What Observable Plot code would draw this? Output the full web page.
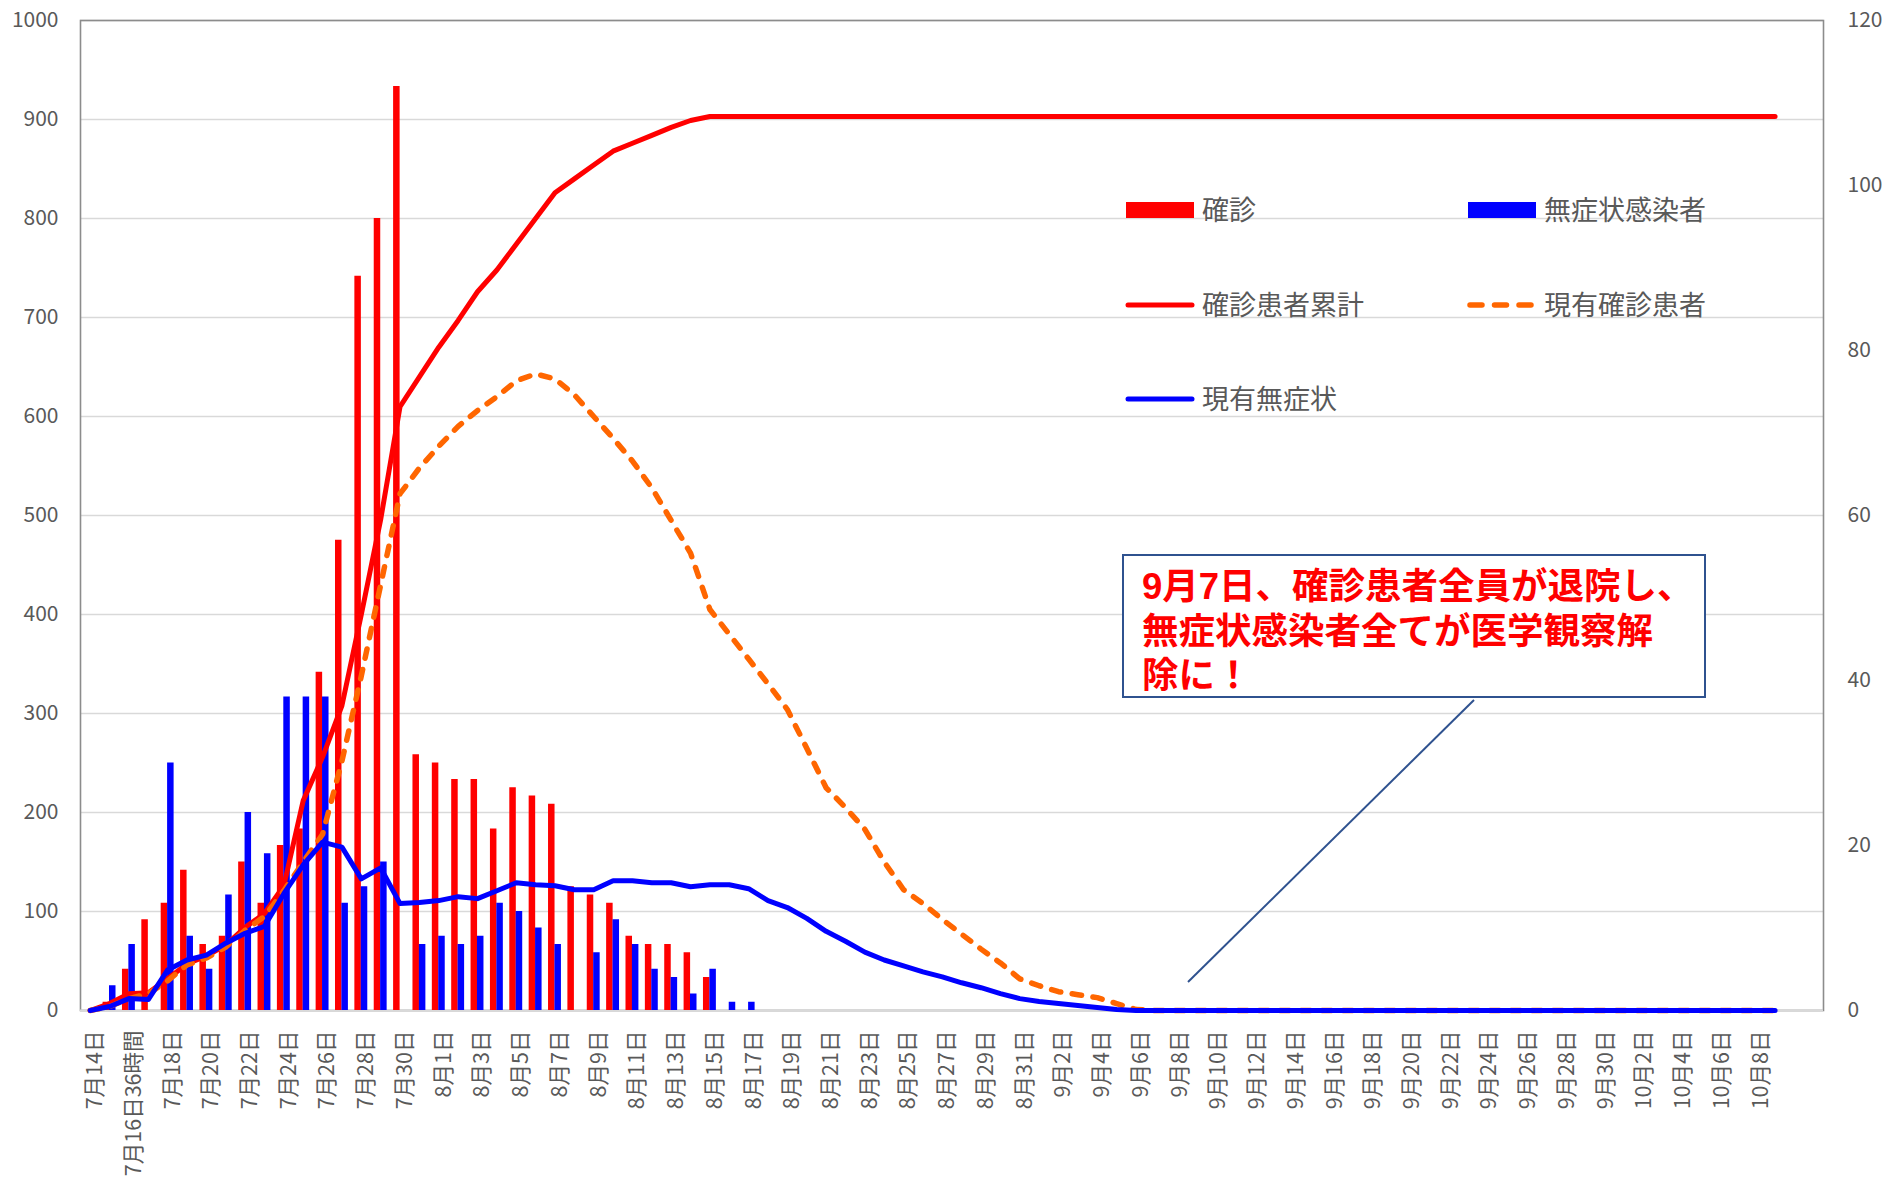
<!DOCTYPE html>
<html><head><meta charset="utf-8">
<script src="https://cdn.jsdelivr.net/npm/d3@7"></script>
<script src="https://cdn.jsdelivr.net/npm/@observablehq/plot@0.6"></script>
<style>
html,body{margin:0;padding:0;background:#fff;}
#wrap{position:relative;width:1885px;height:1185px;font-family:"Noto Sans CJK JP","Noto Sans",sans-serif;}
.lg{position:absolute;font-size:27px;color:#595959;line-height:1;white-space:nowrap;}
.sw{position:absolute;}
#note{position:absolute;left:1122px;top:554px;width:584px;height:144px;border:2px solid #2F528F;background:#fff;
  color:#ff0000;font-family:"Liberation Sans","Noto Sans CJK JP",sans-serif;font-weight:bold;font-size:36.5px;line-height:44.5px;
  padding:9px 0 0 18px;box-sizing:border-box;white-space:nowrap;}
</style></head><body><div id="wrap"></div>
<script>
// x categories (tick labels)
const labels = ["7月14日","7月15日","7月16日36時間","7月17日","7月18日","7月19日","7月20日","7月21日","7月22日","7月23日","7月24日","7月25日","7月26日","7月27日","7月28日","7月29日","7月30日","7月31日",
"8月1日","8月2日","8月3日","8月4日","8月5日","8月6日","8月7日","8月8日","8月9日","8月10日","8月11日","8月12日","8月13日","8月14日","8月15日","8月16日","8月17日","8月18日","8月19日","8月20日","8月21日","8月22日","8月23日","8月24日","8月25日","8月26日","8月27日","8月28日","8月29日","8月30日","8月31日",
"9月1日","9月2日","9月3日","9月4日","9月5日","9月6日","9月7日","9月8日","9月9日","9月10日","9月11日","9月12日","9月13日","9月14日","9月15日","9月16日","9月17日","9月18日","9月19日","9月20日","9月21日","9月22日","9月23日","9月24日","9月25日","9月26日","9月27日","9月28日","9月29日","9月30日",
"10月1日","10月2日","10月3日","10月4日","10月5日","10月6日","10月7日","10月8日","10月9日"];
const slotCount = 90; // category slots on the axis (last two empty)

// right axis (0-120): daily bars
const confirmedDaily = [0,1,5,11,13,17,8,9,18,13,20,22,41,57,89,96,112,31,30,28,28,22,27,26,25,15,14,13,9,8,8,7,4,0,0];
const asymptomaticDaily = [0,3,8,0,30,9,5,14,24,19,38,38,38,13,15,18,0,8,9,8,9,13,12,10,8,0,7,11,8,5,4,2,5,1,1];

// left axis (0-1000): lines (88 values each)
const cumulativeConfirmed = [
  0,7,17,18,32,47,55,66,84,98,
  126,212,256,308,400,496,610,640,670,697,
  726,748,774,800,826,840,854,868,876,884,
  892,899,903,903,903,903,903,903,903,903,
  903,903,903,903,903,903,903,903,903,903,
  903,903,903,903,903,903,903,903,903,903,
  903,903,903,903,903,903,903,903,903,903,
  903,903,903,903,903,903,903,903,903,903,
  903,903,903,903,903,903,903,903];
const currentConfirmed = [
  0,4,12,17,30,46,53,64,81,95,
  121,150,178,252,338,430,522,548,570,590,
  606,620,636,643,638,622,600,578,555,528,
  495,462,405,380,355,330,304,265,225,205,
  183,150,122,108,92,77,62,48,32,25,
  19,16,13,7,1,0,0,0,0,0,
  0,0,0,0,0,0,0,0,0,0,
  0,0,0,0,0,0,0,0,0,0,
  0,0,0,0,0,0,0,0];
const currentAsymptomatic = [
  0,4,12,11,41,51,56,68,78,85,
  118,147,170,165,133,144,108,109,111,115,
  113,121,129,127,126,122,122,131,131,129,
  129,125,127,127,123,111,104,93,80,70,
  59,51,45,39,34,28,23,17,12,9,
  7,5,3,1,0,0,0,0,0,0,
  0,0,0,0,0,0,0,0,0,0,
  0,0,0,0,0,0,0,0,0,0,
  0,0,0,0,0,0,0,0];

const leftTicks = [0,100,200,300,400,500,600,700,800,900,1000];
const rightTicks = [0,20,40,60,80,100,120];
const LEFT_MAX = 1000, RIGHT_MAX = 120;
const k = LEFT_MAX / RIGHT_MAX;

const series = arr => arr.map((v, i) => ({i, v}));
const barsR = series(confirmedDaily).filter(d => d.v > 0);
const barsB = series(asymptomaticDaily).filter(d => d.v > 0);

const FONT = '"Noto Sans CJK JP","Noto Sans",sans-serif';

const chart = Plot.plot({
  width: 1885, height: 1185,
  marginTop: 20, marginBottom: 175, marginLeft: 80, marginRight: 62,
  style: {fontFamily: FONT, color: "#595959", background: "#fff", overflow: "visible"},
  x: {type: "band", domain: d3.range(slotCount), paddingInner: 0.664, paddingOuter: 0.332, round: false},
  y: {domain: [0, LEFT_MAX]},
  marks: [
    Plot.gridY(leftTicks, {stroke: "#d9d9d9", strokeOpacity: 1, strokeWidth: 1.6}),
    Plot.frame({stroke: "#8c8c8c", strokeWidth: 1.6}),
    Plot.ruleY([0], {stroke: "#d9d9d9", strokeWidth: 2}),
    Plot.axisY(leftTicks, {anchor: "left", tickSize: 0, tickPadding: 22, fontSize: 21, label: null, fill: "#595959",
      tickFormat: d => String(d)}),
    Plot.axisY(rightTicks.map(v => v * k), {anchor: "right", tickSize: 0, tickPadding: 24, fontSize: 21, label: null, fill: "#595959",
      tickFormat: d => String(Math.round(d / k))}),
    Plot.axisX(d3.range(0, labels.length - 1, 2), {anchor: "bottom", tickSize: 0, tickPadding: 20, tickRotate: -90, fontSize: 21.5,
      label: null, fill: "#595959", dx: 5, tickFormat: i => labels[i]}),
    Plot.barY(barsR, {x: "i", y: d => d.v * k, fill: "#ff0000", dx: -3.2}),
    Plot.barY(barsB, {x: "i", y: d => d.v * k, fill: "#0000ff", dx: 3.2}),
    Plot.line(series(cumulativeConfirmed), {x: "i", y: "v", stroke: "#ff0000", strokeWidth: 5, strokeLinejoin: "round", strokeLinecap: "round"}),
    Plot.line(series(currentConfirmed), {x: "i", y: "v", stroke: "#ff6600", strokeWidth: 5.5, strokeDasharray: "9.5,11.5", strokeLinecap: "round", strokeLinejoin: "round"}),
    Plot.line(series(currentAsymptomatic), {x: "i", y: "v", stroke: "#0000ff", strokeWidth: 5, strokeLinejoin: "round", strokeLinecap: "round"})
  ]
});

const wrap = document.getElementById("wrap");
wrap.appendChild(chart);

// legend (inside plot area)
const legendItems = [
  {name: "確診", kind: "rect", color: "#ff0000", x: 1126, y: 210},
  {name: "無症状感染者", kind: "rect", color: "#0000ff", x: 1468, y: 210},
  {name: "確診患者累計", kind: "line", color: "#ff0000", x: 1126, y: 305},
  {name: "現有確診患者", kind: "dash", color: "#ff6600", x: 1468, y: 305},
  {name: "現有無症状", kind: "line", color: "#0000ff", x: 1126, y: 399}
];
const NS = "http://www.w3.org/2000/svg";
for (const it of legendItems) {
  const s = document.createElementNS(NS, "svg");
  s.setAttribute("class", "sw");
  s.setAttribute("width", 72); s.setAttribute("height", 20);
  s.style.left = (it.x - 2) + "px"; s.style.top = (it.y - 10) + "px";
  if (it.kind === "rect") {
    const r = document.createElementNS(NS, "rect");
    r.setAttribute("x", 2); r.setAttribute("y", 2); r.setAttribute("width", 68); r.setAttribute("height", 16);
    r.setAttribute("fill", it.color); s.appendChild(r);
  } else {
    const l = document.createElementNS(NS, "line");
    l.setAttribute("x1", 4); l.setAttribute("x2", 68); l.setAttribute("y1", 10); l.setAttribute("y2", 10);
    l.setAttribute("stroke", it.color); l.setAttribute("stroke-width", it.kind === "dash" ? 5.5 : 5);
    l.setAttribute("stroke-linecap", "round");
    if (it.kind === "dash") l.setAttribute("stroke-dasharray", "12,12.5");
    s.appendChild(l);
  }
  wrap.appendChild(s);
  const t = document.createElement("div");
  t.className = "lg"; t.textContent = it.name;
  t.style.left = (it.x + 76) + "px"; t.style.top = (it.y - 15) + "px";
  wrap.appendChild(t);
}

// annotation pointer + box
const ps = document.createElementNS(NS, "svg");
ps.setAttribute("width", 1885); ps.setAttribute("height", 1185);
ps.style.position = "absolute"; ps.style.left = "0"; ps.style.top = "0"; ps.style.pointerEvents = "none";
const pl = document.createElementNS(NS, "line");
pl.setAttribute("x1", 1474); pl.setAttribute("y1", 700); pl.setAttribute("x2", 1188); pl.setAttribute("y2", 982);
pl.setAttribute("stroke", "#2F528F"); pl.setAttribute("stroke-width", 2);
ps.appendChild(pl);
wrap.appendChild(ps);
const note = document.createElement("div");
note.id = "note";
note.innerHTML = "9月7日、確診患者全員が退院し、<br>無症状感染者全てが医学観察解<br>除に！";
wrap.appendChild(note);
</script>
</body></html>
